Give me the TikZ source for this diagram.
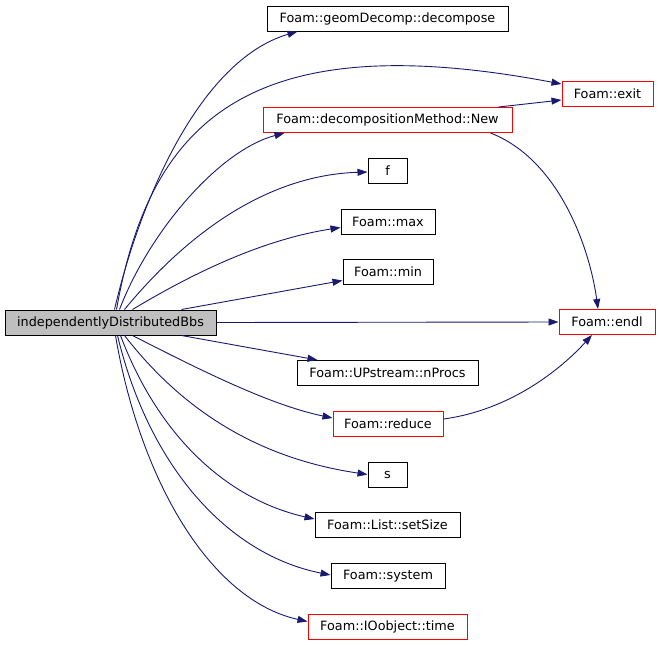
\documentclass[tikz,border=0pt]{standalone}
\usepackage{fontspec}
\setmainfont{DejaVu Sans}
\usetikzlibrary{arrows.meta}
\definecolor{edgeblue}{HTML}{191970}
\definecolor{mainfill}{HTML}{BFBFBF}
\definecolor{redbox}{HTML}{FF0000}
\tikzset{
  box/.style={draw=black, line width=1pt, fill=white, minimum height=25pt, inner sep=0pt, font=\fontsize{12.8}{15}\selectfont},
  redfn/.style={box, draw=redbox},
  mainbox/.style={box, fill=mainfill},
  call/.style={draw=edgeblue, line width=0.9pt, -{Triangle[length=10pt,width=7pt]}, fill=none},
}
\begin{document}
\begin{tikzpicture}[x=1pt,y=-1pt]
\useasboundingbox (0,0) rectangle (660,645);
\node[mainbox, minimum width=211pt] (main) at (110.5,322.5) {independentlyDistributedBbs};
\node[box, minimum width=241pt] (geom) at (387.5,18.5) {Foam::geomDecomp::decompose};
\node[redfn, minimum width=91pt] (exit) at (607.5,94) {Foam::exit};
\node[redfn, minimum width=249pt] (New) at (387.5,120) {Foam::decompositionMethod::New};
\node[box, minimum width=39pt] (f) at (387.5,170.5) {f};
\node[box, minimum width=94pt] (max) at (388,221.5) {Foam::max};
\node[box, minimum width=90pt] (min) at (388,271.5) {Foam::min};
\node[redfn, minimum width=96pt] (endl) at (607,322) {Foam::endl};
\node[box, minimum width=181pt] (nProcs) at (387.5,373) {Foam::UPstream::nProcs};
\node[redfn, minimum width=110pt] (reduce) at (388,424) {Foam::reduce};
\node[box, minimum width=39pt] (s) at (387.5,474.5) {s};
\node[box, minimum width=145pt] (setSize) at (387.5,525) {Foam::List::setSize};
\node[box, minimum width=114pt] (system) at (388,576) {Foam::system};
\node[redfn, minimum width=159pt] (time) at (387.5,626.5) {Foam::IOobject::time};

\draw[call] ([xshift=4]main.north) .. controls (140,200) and (200,60) .. ([xshift=-90]geom.south);
\draw[call] ([xshift=6]main.north) .. controls (150,120) and (250,25) .. ([yshift=-3]exit.north west);
\draw[call] ([xshift=9]main.north) .. controls (150,230) and (220,150) .. ([xshift=-103]New.south);
\draw[call] ([xshift=14]main.north) .. controls (190,230) and (270,175) .. ([yshift=-1.5]f.west);
\draw[call] ([xshift=22]main.north) .. controls (190,275) and (260,240) .. ([yshift=-6]max.west);
\draw[call] ([xshift=71]main.north) -- ([yshift=-9]min.west);
\draw[call] (main.east) -- (endl.west);
\draw[call] ([xshift=71]main.south) -- ([xshift=-70]nProcs.north);
\draw[call] ([xshift=22]main.south) .. controls (200,370) and (270,405) .. ([yshift=6]reduce.west);
\draw[call] ([xshift=14]main.south) .. controls (190,420) and (270,460) .. (s.west);
\draw[call] ([xshift=10]main.south) .. controls (160,440) and (230,500) .. ([yshift=6]setSize.west);
\draw[call] ([xshift=7]main.south) .. controls (150,470) and (230,555) .. ([yshift=1]system.west);
\draw[call] ([xshift=5]main.south) .. controls (140,480) and (210,600) .. ([yshift=5]time.west);
\draw[call] ([xshift=111]New.north) -- ([yshift=-6]exit.west);
\draw[call] ([xshift=103]New.south) .. controls (560,160) and (590,250) .. ([xshift=-9]endl.north);
\draw[call] ([yshift=5]reduce.east) .. controls (510,410) and (560,370) .. ([xshift=-15]endl.south);
\end{tikzpicture}
\end{document}
